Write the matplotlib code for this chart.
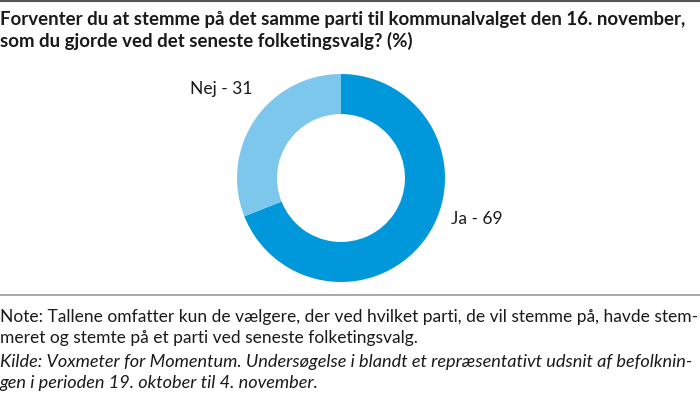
import matplotlib
matplotlib.use("Agg")
import matplotlib.pyplot as plt
from matplotlib import font_manager

# data
labels = ["Ja", "Nej"]
values = [69, 31]
colors = ["#0098da", "#7dc7ec"]

title_lines = [
    "Forventer du at stemme på det samme parti til kommunalvalget den 16. november,",
    "som du gjorde ved det seneste folketingsvalg? (%)",
]
note_lines = [
    "Note: Tallene omfatter kun de vælgere, der ved hvilket parti, de vil stemme på, havde stem-",
    "meret og stemte på et parti ved seneste folketingsvalg.",
]
source_lines = [
    "Kilde: Voxmeter for Momentum. Undersøgelse i blandt et repræsentativt udsnit af befolknin-",
    "gen i perioden 19. oktober til 4. november.",
]

installed = {f.name for f in font_manager.fontManager.ttflist}
font = "Lato" if "Lato" in installed else "DejaVu Sans"
plt.rcParams["font.family"] = [font, "DejaVu Sans"]

W, H = 700, 398
fig = plt.figure(figsize=(W / 100, H / 100), dpi=100)
txt_color = "#1a1a1a"


def fy(y):
    return 1 - y / H


# top rule and separator
fig.add_artist(plt.Line2D([0, 1], [fy(0.8), fy(0.8)], color="#555555", lw=1.5))
fig.add_artist(plt.Line2D([0, 1], [fy(295), fy(295)], color="#9a9a9a", lw=1.2))

# title
for line, base in zip(title_lines, [25, 47]):
    fig.text(0, fy(base), line, fontsize=13.4, fontweight="bold",
             color=txt_color, va="baseline", ha="left")

# donut
cx, cy, R = 341, 178, 104
ax = fig.add_axes([(cx - R) / W, (H - cy - R) / H, 2 * R / W, 2 * R / H])
ax.pie(values, colors=colors, startangle=90, counterclock=False,
       wedgeprops=dict(width=0.385, linewidth=0))
ax.set_xlim(-1, 1)
ax.set_ylim(-1, 1)
ax.set_aspect("equal")
ax.axis("off")

ax.text(1.06, -0.39, f"{labels[0]} - {values[0]}", fontsize=12.5,
        color=txt_color, ha="left", va="center")
ax.text(-0.85, 0.86, f"{labels[1]} - {values[1]}", fontsize=12.5,
        color=txt_color, ha="right", va="center")

# note and source
for line, base in zip(note_lines, [322, 343]):
    fig.text(0, fy(base), line, fontsize=12.5, color=txt_color,
             va="baseline", ha="left")
for line, base in zip(source_lines, [367, 388]):
    fig.text(0, fy(base), line, fontsize=13.1, color=txt_color,
             style="italic", va="baseline", ha="left")

fig.savefig("out.png", dpi=100)
